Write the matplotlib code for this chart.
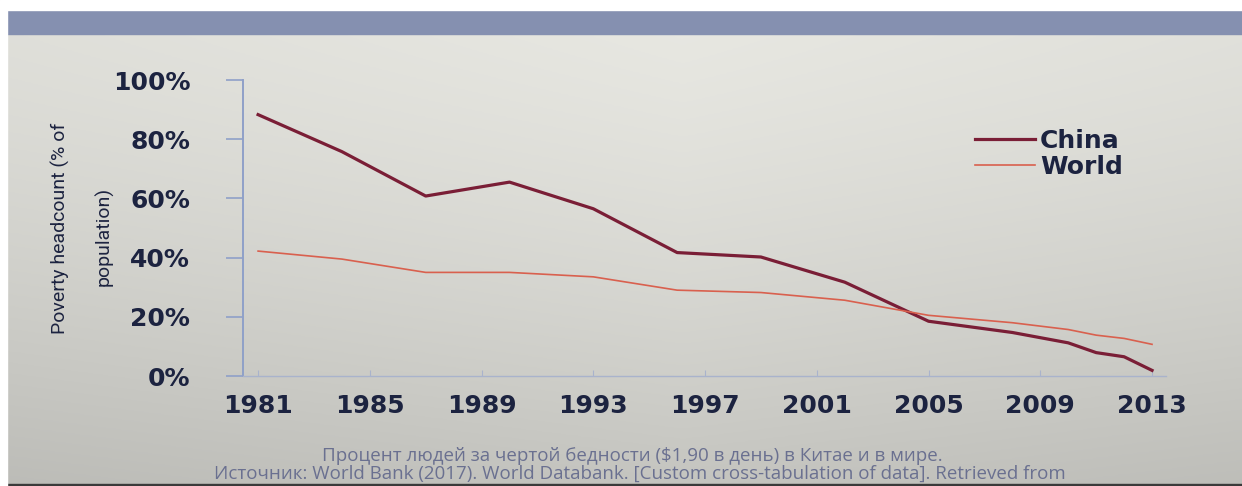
import numpy as np
import matplotlib
matplotlib.use("Agg")
import matplotlib.pyplot as plt
from matplotlib.patches import Rectangle
from matplotlib.ticker import FuncFormatter

years = [1981, 1984, 1987, 1990, 1993, 1996, 1999, 2002, 2005, 2008, 2010, 2011, 2012, 2013]
china = [88.3, 75.8, 60.8, 65.5, 56.5, 41.7, 40.2, 31.7, 18.5, 14.7, 11.2, 7.9, 6.5, 1.9]
world = [42.2, 39.5, 35.0, 35.0, 33.5, 29.0, 28.2, 25.6, 20.5, 18.0, 15.7, 13.8, 12.7, 10.7]
xticks = [1981, 1985, 1989, 1993, 1997, 2001, 2005, 2009, 2013]
yticks = [0, 20, 40, 60, 80, 100]
series_names = ["China", "World"]
ylabel_lines = ["Poverty headcount (% of", "population)"]
caption1 = "Процент людей за чертой бедности ($1,90 в день) в Китае и в мире."
caption2 = "Источник: World Bank (2017). World Databank. [Custom cross-tabulation of data]. Retrieved from"

W, H = 1242, 486
fig = plt.figure(figsize=(W / 100, H / 100), dpi=100)
INK = "#1c2340"

# background (photo of a screen): gradient
bg = fig.add_axes([0, 0, 1, 1], zorder=-10)
bg.set_axis_off()
yy, xx = np.mgrid[0:1:200j, 0:1:400j]
light = 0.91 - 0.14 * (yy ** 1.4) - 0.06 * np.abs(xx - 0.55)
img = np.dstack([light, light, light * 0.975])
bg.imshow(np.clip(img, 0, 1), extent=[0, 1, 0, 1], aspect="auto", origin="upper")
bg.set_xlim(0, 1)
bg.set_ylim(0, 1)
bg.add_patch(Rectangle((0, 1 - 10 / H), 1, 10 / H, color="white", zorder=3))
bg.add_patch(Rectangle((0, 0), 7 / W, 1, color="white", zorder=3))
bg.add_patch(Rectangle((7 / W, 1 - 34 / H), 1, 24 / H, color="#8590b0", zorder=2))
bg.add_patch(Rectangle((7 / W, 0), 1, 2 / H, color="#3a3a3a", zorder=2))

ax = fig.add_axes([243 / W, 1 - 376 / H, (1166 - 243) / W, (376 - 80) / H])
ax.patch.set_alpha(0)
ax.plot(years, china, color="#7a1e36", lw=2.3, label=series_names[0], solid_joinstyle="round")
ax.plot(years, world, color="#d9604e", lw=1.2, label=series_names[1])
ax.set_xlim(1980.46, 2013.5)
ax.set_ylim(0, 100)
ax.set_xticks(xticks)
ax.set_yticks(yticks)
ax.yaxis.set_major_formatter(FuncFormatter(lambda v, p: f"{int(v)}%"))
for s in ["top", "right"]:
    ax.spines[s].set_visible(False)
ax.spines["left"].set_color("#8fa0c8")
ax.spines["left"].set_linewidth(1.4)
ax.spines["bottom"].set_color("#a9b3cc")
ax.spines["bottom"].set_linewidth(1.0)
ax.tick_params(axis="y", direction="out", length=12, color="#8fa0c8", width=1.2, pad=26,
               labelsize=18, labelcolor=INK)
ax.tick_params(axis="x", direction="in", length=4, color="#a9b3cc", pad=13,
               labelsize=18, labelcolor=INK)
for lab in ax.get_xticklabels() + ax.get_yticklabels():
    lab.set_fontweight("bold")
    lab.set_family(["DejaVu Sans"])

lab_font = ["Roboto", "DejaVu Sans"]
fig.text(60 / W, 1 - 228 / H, ylabel_lines[0], rotation=90, ha="center", va="center",
         fontsize=14, color=INK, family=lab_font)
fig.text(104 / W, 1 - 236 / H, ylabel_lines[1], rotation=90, ha="center", va="center",
         fontsize=14, color=INK, family=lab_font)

leg = ax.legend(loc="center left", bbox_to_anchor=(975 / W, 1 - 154 / H),
                bbox_transform=fig.transFigure, frameon=False, borderpad=0,
                borderaxespad=0, handlelength=2.4, handletextpad=0.2, labelspacing=0.08,
                prop={"family": "DejaVu Sans", "weight": "bold", "size": 18})
for t in leg.get_texts():
    t.set_color(INK)

fig.text(632 / W, 1 - 456 / H, caption1, ha="center", va="center", fontsize=13.5,
         color="#6a7090", family=["Open Sans", "DejaVu Sans"])
fig.text(640 / W, 1 - 474 / H, caption2, ha="center", va="center", fontsize=13.5,
         color="#6a7090", family=["Open Sans", "DejaVu Sans"])

fig.savefig("out.png", dpi=100)
